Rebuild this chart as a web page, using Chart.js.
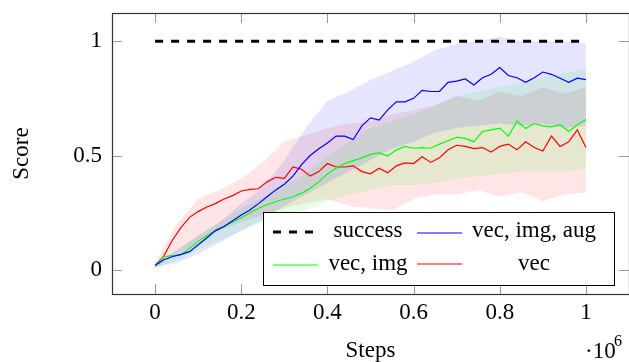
<!DOCTYPE html>
<html>
<head>
<meta charset="utf-8">
<script src="https://cdn.jsdelivr.net/npm/chart.js@4.4.0/dist/chart.umd.min.js"></script>
<style>
  html, body { margin: 0; padding: 0; background: #fff; }
</style>
</head>
<body>
<canvas id="myChart" width="629" height="362"></canvas>
<script>
// training steps (x 1e6)
var steps = [0, 0.02, 0.04, 0.06, 0.08, 0.10, 0.12, 0.14, 0.16, 0.18,
  0.20, 0.22, 0.24, 0.26, 0.28, 0.30, 0.32, 0.34, 0.36, 0.38,
  0.40, 0.42, 0.44, 0.46, 0.48, 0.50, 0.52, 0.54, 0.56, 0.58,
  0.60, 0.62, 0.64, 0.66, 0.68, 0.70, 0.72, 0.74, 0.76, 0.78,
  0.80, 0.82, 0.84, 0.86, 0.88, 0.90, 0.92, 0.94, 0.96, 0.98, 1.0];

var vecImgAug = [0.02, 0.045, 0.058, 0.068, 0.08, 0.11, 0.14, 0.172, 0.19, 0.215,
  0.24, 0.262, 0.29, 0.32, 0.35, 0.375, 0.41, 0.46, 0.50, 0.53,
  0.555, 0.585, 0.585, 0.57, 0.63, 0.665, 0.655, 0.70, 0.735, 0.735,
  0.75, 0.785, 0.78, 0.78, 0.82, 0.825, 0.835, 0.808, 0.84, 0.855,
  0.885, 0.85, 0.84, 0.82, 0.84, 0.865, 0.855, 0.838, 0.82, 0.838, 0.832];

var vecImg = [0.02, 0.058, 0.063, 0.066, 0.095, 0.125, 0.15, 0.172, 0.19, 0.21,
  0.228, 0.25, 0.27, 0.285, 0.298, 0.31, 0.32, 0.335, 0.357, 0.385,
  0.42, 0.445, 0.465, 0.478, 0.49, 0.505, 0.512, 0.498, 0.525, 0.54,
  0.532, 0.535, 0.532, 0.55, 0.565, 0.58, 0.575, 0.56, 0.605, 0.612,
  0.62, 0.585, 0.65, 0.618, 0.64, 0.63, 0.625, 0.635, 0.605, 0.635, 0.658];

var vec = [0.02, 0.06, 0.13, 0.185, 0.23, 0.255, 0.275, 0.29, 0.31, 0.325,
  0.345, 0.352, 0.355, 0.385, 0.405, 0.40, 0.45, 0.44, 0.41, 0.43,
  0.465, 0.45, 0.45, 0.455, 0.43, 0.42, 0.445, 0.425, 0.455, 0.468,
  0.465, 0.495, 0.47, 0.49, 0.525, 0.545, 0.54, 0.53, 0.535, 0.515,
  0.54, 0.55, 0.525, 0.56, 0.535, 0.52, 0.585, 0.54, 0.56, 0.612, 0.535];

// shaded bands
var bandSteps = [0, 0.05, 0.10, 0.15, 0.20, 0.25, 0.30, 0.35, 0.40, 0.45, 0.50,
  0.55, 0.60, 0.65, 0.70, 0.75, 0.80, 0.85, 0.90, 0.95, 1.0];
var vecImgAugHi = [0.03, 0.09, 0.15, 0.21, 0.29, 0.36, 0.48, 0.62, 0.74, 0.78, 0.83,
  0.87, 0.91, 0.96, 0.99, 1.0, 1.02, 1.0, 1.0, 1.0, 0.99];
var vecImgAugLo = [0.01, 0.03, 0.07, 0.12, 0.17, 0.22, 0.28, 0.33, 0.38, 0.43, 0.48,
  0.53, 0.56, 0.60, 0.62, 0.63, 0.64, 0.63, 0.64, 0.62, 0.63];
var vecImgHi = [0.03, 0.08, 0.15, 0.21, 0.27, 0.32, 0.37, 0.42, 0.50, 0.56, 0.62,
  0.65, 0.68, 0.72, 0.76, 0.78, 0.80, 0.82, 0.84, 0.86, 0.88];
var vecImgLo = [0.01, 0.04, 0.09, 0.13, 0.17, 0.21, 0.24, 0.26, 0.30, 0.33, 0.35,
  0.37, 0.37, 0.38, 0.40, 0.41, 0.42, 0.43, 0.43, 0.43, 0.44];
var vecHi = [0.03, 0.20, 0.31, 0.35, 0.40, 0.47, 0.56, 0.59, 0.62, 0.64, 0.65,
  0.68, 0.70, 0.72, 0.76, 0.74, 0.78, 0.76, 0.80, 0.77, 0.80];
var vecLo = [0.01, 0.07, 0.12, 0.17, 0.21, 0.24, 0.27, 0.29, 0.31, 0.28, 0.27,
  0.26, 0.31, 0.33, 0.33, 0.35, 0.32, 0.34, 0.30, 0.33, 0.34];

var successX = [0, 1];
var successY = [1, 1];

var xTicks = [0, 0.2, 0.4, 0.6, 0.8, 1];
var yTicks = [0, 0.5, 1];

var serif = '"Liberation Serif", "Times New Roman", serif';

function pts(xs, ys) {
  return xs.map(function(x, i){ return {x: x, y: ys[i]}; });
}

function band(ys, color, fill) {
  return {
    data: pts(bandSteps, ys),
    borderWidth: 0,
    pointRadius: 0,
    backgroundColor: color,
    fill: fill,
    tension: 0
  };
}

function line(ys, color) {
  return {
    data: pts(steps, ys),
    borderColor: color,
    borderWidth: 1.2,
    pointRadius: 0,
    fill: false,
    tension: 0
  };
}

// ticks pointing inward, frame, legend box and the exponent
var decor = {
  id: 'decor',
  afterDraw: function(chart) {
    var ctx = chart.ctx, a = chart.chartArea;
    var sx = chart.scales.x, sy = chart.scales.y;
    ctx.save();

    ctx.strokeStyle = '#999';
    ctx.lineWidth = 1;
    ctx.beginPath();
    xTicks.forEach(function(v){
      var px = Math.round(sx.getPixelForValue(v)) + 0.5;
      ctx.moveTo(px, a.top); ctx.lineTo(px, a.top + 10);
      ctx.moveTo(px, a.bottom); ctx.lineTo(px, a.bottom - 10);
    });
    yTicks.forEach(function(v){
      var py = Math.round(sy.getPixelForValue(v)) + 0.5;
      ctx.moveTo(a.left, py); ctx.lineTo(a.left + 10, py);
      ctx.moveTo(a.right, py); ctx.lineTo(a.right - 10, py);
    });
    ctx.stroke();

    // legend
    var lx = 263.5, ly = 212.5, lw = 351, lh = 73;
    ctx.fillStyle = '#fff';
    ctx.fillRect(lx, ly, lw, lh);
    ctx.strokeStyle = '#000';
    ctx.lineWidth = 1;
    ctx.strokeRect(lx, ly, lw, lh);

    ctx.lineWidth = 3;
    ctx.setLineDash([8, 8]);
    ctx.beginPath(); ctx.moveTo(273, 232); ctx.lineTo(315, 232); ctx.stroke();
    ctx.setLineDash([]);
    ctx.lineWidth = 1.2;
    ctx.strokeStyle = '#0000ff';
    ctx.beginPath(); ctx.moveTo(417, 233); ctx.lineTo(462, 233); ctx.stroke();
    ctx.strokeStyle = '#00ff00';
    ctx.beginPath(); ctx.moveTo(273, 265); ctx.lineTo(318, 265); ctx.stroke();
    ctx.strokeStyle = '#ff0000';
    ctx.beginPath(); ctx.moveTo(417, 264); ctx.lineTo(462, 264); ctx.stroke();

    ctx.fillStyle = '#000';
    ctx.font = '23px ' + serif;
    ctx.textBaseline = 'middle';
    ctx.textAlign = 'center';
    ctx.fillText('success', 368, 231);
    ctx.fillText('vec, img, aug', 534, 231);
    ctx.fillText('vec, img', 368, 264);
    ctx.fillText('vec', 534, 264);

    // exponent of x axis
    ctx.textAlign = 'left';
    ctx.fillText('\u00b710', 585, 352);
    ctx.font = '16px ' + serif;
    ctx.fillText('6', 614, 342);

    // frame
    ctx.strokeStyle = '#333';
    ctx.lineWidth = 1.2;
    ctx.strokeRect(a.left + 0.5, a.top + 0.5, a.right - a.left, a.bottom - a.top);
    ctx.restore();
  }
};

var ctx = document.getElementById('myChart');
var myChart = new Chart(ctx, {
  type: 'line',
  data: {
    datasets: [
      band(vecImgAugHi, 'rgba(0,0,255,0.1)', '+1'),
      band(vecImgAugLo, 'rgba(0,0,255,0.1)', false),
      band(vecImgHi, 'rgba(0,255,0,0.1)', '+1'),
      band(vecImgLo, 'rgba(0,255,0,0.1)', false),
      band(vecHi, 'rgba(255,0,0,0.1)', '+1'),
      band(vecLo, 'rgba(255,0,0,0.1)', false),
      {
        data: pts(successX, successY),
        borderColor: '#000',
        borderWidth: 3,
        borderDash: [8, 8],
        pointRadius: 0,
        fill: false
      },
      line(vecImgAug, '#0000ff'),
      line(vecImg, '#00ff00'),
      line(vec, '#ff0000')
    ]
  },
  options: {
    responsive: false,
    animation: false,
    devicePixelRatio: 1,
    layout: { padding: { top: 13, left: 0, right: 0, bottom: 0 } },
    plugins: {
      legend: { display: false },
      tooltip: { enabled: false },
      filler: { drawTime: 'beforeDatasetsDraw' }
    },
    scales: {
      x: {
        type: 'linear',
        min: -0.1,
        max: 1.1,
        grid: { display: false, drawTicks: false },
        border: { display: false },
        afterBuildTicks: function(s){ s.ticks = xTicks.map(function(v){ return {value: v}; }); },
        afterFit: function(s){ s.height = 68; s.paddingLeft = 0; s.paddingRight = 0; },
        ticks: {
          padding: 5,
          color: '#000',
          font: { family: serif, size: 23, lineHeight: 1.2 },
          callback: function(v){ return String(v); }
        },
        title: {
          display: true,
          text: 'Steps',
          color: '#000',
          font: { family: serif, size: 23, lineHeight: 1 },
          padding: { top: 0, bottom: 0 }
        }
      },
      y: {
        type: 'linear',
        min: -0.105,
        max: 1.123,
        grid: { display: false, drawTicks: false },
        border: { display: false },
        afterBuildTicks: function(s){ s.ticks = yTicks.map(function(v){ return {value: v}; }); },
        afterFit: function(s){ s.width = 112; s.paddingTop = 0; s.paddingBottom = 0; },
        ticks: {
          padding: 10,
          color: '#000',
          font: { family: serif, size: 23, lineHeight: 1.2 },
          callback: function(v){ return String(v); }
        },
        title: {
          display: true,
          text: 'Score',
          color: '#000',
          font: { family: serif, size: 23, lineHeight: 1 },
          padding: { top: 10, bottom: 0 }
        }
      }
    }
  },
  plugins: [decor]
});
</script>
</body>
</html>
